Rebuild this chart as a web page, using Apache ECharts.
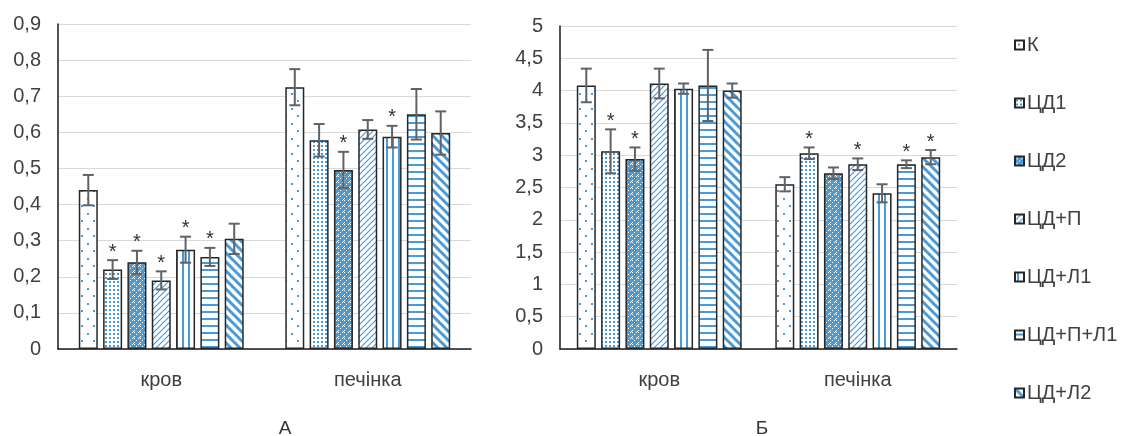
<!DOCTYPE html>
<html>
<head>
<meta charset="utf-8">
<script src="https://cdn.jsdelivr.net/npm/echarts@6/dist/echarts.min.js"></script>
<style>
    html, body { margin: 0; padding: 0; background: #fff; }
    #chart { width: 1127px; height: 436px; }
</style>
</head>
<body>
<div id="chart"></div>
<script>
// categories and groups
const categories = ['кров', 'печінка'];
const groups = ['К', 'ЦД1', 'ЦД2', 'ЦД+П', 'ЦД+Л1', 'ЦД+П+Л1', 'ЦД+Л2'];

// chart А
const aBlood = [0.44, 0.22, 0.24, 0.19, 0.275, 0.255, 0.305];
const aBloodErr = [0.042, 0.026, 0.032, 0.025, 0.036, 0.025, 0.042];
const aBloodStar = [0, 1, 1, 1, 1, 1, 0];
const aLiver = [0.725, 0.578, 0.496, 0.608, 0.588, 0.65, 0.598];
const aLiverErr = [0.05, 0.045, 0.05, 0.026, 0.03, 0.07, 0.06];
const aLiverStar = [0, 0, 1, 0, 1, 0, 0];

// chart Б
const bBlood = [4.08, 3.06, 2.94, 4.11, 4.03, 4.08, 4.0];
const bBloodErr = [0.26, 0.34, 0.18, 0.23, 0.08, 0.55, 0.11];
const bBloodStar = [0, 1, 1, 0, 0, 0, 0];
const bLiver = [2.55, 3.03, 2.72, 2.86, 2.41, 2.86, 2.97];
const bLiverErr = [0.11, 0.09, 0.09, 0.09, 0.14, 0.06, 0.11];
const bLiverStar = [0, 1, 0, 1, 0, 1, 1];

const BLUE = '#4a9ad8';
const BAR_W = 19;
const GAP = 0.28;
const STEP = BAR_W * (1 + GAP);   // bar width + gap
const FONT = 'Liberation Sans';

// простые канвас-паттерны для заливки столбцов
function makePattern(kind) {
    const c = document.createElement('canvas');
    const ctx = c.getContext('2d');
    let w = 8, h = 8;
    if (kind === 0) { w = 12; h = 15; }
    if (kind === 1) { w = 4; h = 4; }
    if (kind === 2) { w = 6; h = 6; }
    if (kind === 3) { w = 6; h = 6; }
    if (kind === 4) { w = 6; h = 6; }
    if (kind === 5) { w = 6; h = 7; }
    if (kind === 6) { w = 9; h = 9; }
    c.width = w; c.height = h;
    ctx.fillStyle = '#fff';
    ctx.fillRect(0, 0, w, h);
    ctx.fillStyle = BLUE;
    ctx.strokeStyle = BLUE;
    if (kind === 0) {
        ctx.fillRect(3, 3, 2, 2);
        ctx.fillRect(9, 10, 2, 2);
    } else if (kind === 1) {
        ctx.fillRect(1, 1, 2, 2);
    } else if (kind === 2) {
        ctx.fillRect(0, 0, w, h);
        ctx.fillStyle = '#fff';
        ctx.fillRect(1, 1, 1, 1);
        ctx.fillRect(4, 4, 1, 1);
        ctx.fillRect(2, 2, 1, 1);
        ctx.fillRect(0, 2, 1, 1);
        ctx.fillRect(2, 0, 1, 1);
    } else if (kind === 3) {
        ctx.lineWidth = 1.2;
        ctx.beginPath();
        ctx.moveTo(-1, 7); ctx.lineTo(7, -1);
        ctx.moveTo(-1, 1); ctx.lineTo(1, -1);
        ctx.moveTo(5, 7); ctx.lineTo(7, 5);
        ctx.stroke();
    } else if (kind === 4) {
        ctx.fillRect(2, 0, 2, h);
    } else if (kind === 5) {
        ctx.fillRect(0, 3, w, 2);
    } else if (kind === 6) {
        ctx.lineWidth = 3;
        ctx.beginPath();
        ctx.moveTo(-1, -1); ctx.lineTo(10, 10);
        ctx.moveTo(-10, -1); ctx.lineTo(1, 10);
        ctx.moveTo(8, -1); ctx.lineTo(19, 10);
        ctx.stroke();
    }
    return c;
}

const patterns = groups.map((g, i) => ({ image: makePattern(i), repeat: 'repeat' }));

function toErrData(blood, bloodErr, bloodStar, liver, liverErr, liverStar) {
    const out = [];
    for (let i = 0; i < groups.length; i++) {
        out.push([0, i, blood[i], bloodErr[i], bloodStar[i]]);
        out.push([1, i, liver[i], liverErr[i], liverStar[i]]);
    }
    return out;
}

function renderErr(params, api) {
    const cat = api.value(0), idx = api.value(1), val = api.value(2), err = api.value(3), star = api.value(4);
    const x = api.coord([cat, val])[0] + (idx - 3) * STEP;
    const top = api.coord([cat, val + err])[1];
    const bot = api.coord([cat, val - err])[1];
    const st = { stroke: '#5f6368', lineWidth: 2 };
    const children = [
        { type: 'line', shape: { x1: x, y1: top, x2: x, y2: bot }, style: st },
        { type: 'line', shape: { x1: x - 5.5, y1: top, x2: x + 5.5, y2: top }, style: st },
        { type: 'line', shape: { x1: x - 5.5, y1: bot, x2: x + 5.5, y2: bot }, style: st }
    ];
    if (star) {
        children.push({
            type: 'text',
            style: { text: '*', x: x, y: top - 8, align: 'center', verticalAlign: 'middle', fontSize: 20, fill: '#333', fontFamily: FONT }
        });
    }
    return { type: 'group', children: children };
}

const chart = echarts.init(document.getElementById('chart'));

const axisLabelStyle = { color: '#404040', fontSize: 20, fontFamily: FONT };
const commaFmt = v => String(v).replace('.', ',');

const series = [];
groups.forEach((g, i) => {
    [0, 1].forEach(gi => {
        series.push({
            name: g,
            type: 'bar',
            xAxisIndex: gi,
            yAxisIndex: gi,
            barWidth: BAR_W,
            barGap: (GAP * 100) + '%',
            data: gi === 0 ? [aBlood[i], aLiver[i]] : [bBlood[i], bLiver[i]],
            itemStyle: {
                color: patterns[i],
                borderColor: '#262626',
                borderWidth: 1.5
            },
            emphasis: { disabled: true }
        });
    });
});
series.push({
    type: 'custom', xAxisIndex: 0, yAxisIndex: 0, z: 5,
    renderItem: renderErr,
    data: toErrData(aBlood, aBloodErr, aBloodStar, aLiver, aLiverErr, aLiverStar)
});
series.push({
    type: 'custom', xAxisIndex: 1, yAxisIndex: 1, z: 5,
    renderItem: renderErr,
    data: toErrData(bBlood, bBloodErr, bBloodStar, bLiver, bLiverErr, bLiverStar)
});

chart.setOption({
    animation: false,
    title: [
        { text: 'А', left: 280, top: 414, textAlign: 'center', textStyle: { fontSize: 19, fontWeight: 'normal', color: '#333', fontFamily: FONT } },
        { text: 'Б', left: 757, top: 414, textAlign: 'center', textStyle: { fontSize: 19, fontWeight: 'normal', color: '#333', fontFamily: FONT } }
    ],
    legend: {
        orient: 'vertical',
        left: 1009,
        top: 30,
        itemWidth: 9,
        itemHeight: 9,
        itemGap: 38,
        icon: 'rect',
        data: groups,
        textStyle: { color: '#404040', fontSize: 20, fontFamily: FONT, padding: [0, 0, 0, -2] }
    },
    grid: [
        { left: 58, right: 656, top: 24, bottom: 87 },
        { left: 560, right: 170, top: 26, bottom: 87 }
    ],
    xAxis: [0, 1].map(gi => ({
        type: 'category',
        gridIndex: gi,
        data: categories,
        axisTick: { show: false },
        axisLine: { lineStyle: { color: '#1a1a1a', width: 1.5 } },
        axisLabel: Object.assign({ margin: 21 }, axisLabelStyle)
    })),
    yAxis: [
        {
            type: 'value', gridIndex: 0, min: 0, max: 0.9, interval: 0.1,
            axisLine: { show: true, lineStyle: { color: '#1a1a1a', width: 1.5 } },
            axisTick: { show: false },
            splitLine: { lineStyle: { color: '#d9d9d9', width: 1 } },
            axisLabel: Object.assign({ margin: 17, formatter: commaFmt }, axisLabelStyle)
        },
        {
            type: 'value', gridIndex: 1, min: 0, max: 5, interval: 0.5,
            axisLine: { show: true, lineStyle: { color: '#1a1a1a', width: 1.5 } },
            axisTick: { show: false },
            splitLine: { lineStyle: { color: '#d9d9d9', width: 1 } },
            axisLabel: Object.assign({ margin: 17, formatter: commaFmt }, axisLabelStyle)
        }
    ],
    series: series
});
</script>
</body>
</html>
